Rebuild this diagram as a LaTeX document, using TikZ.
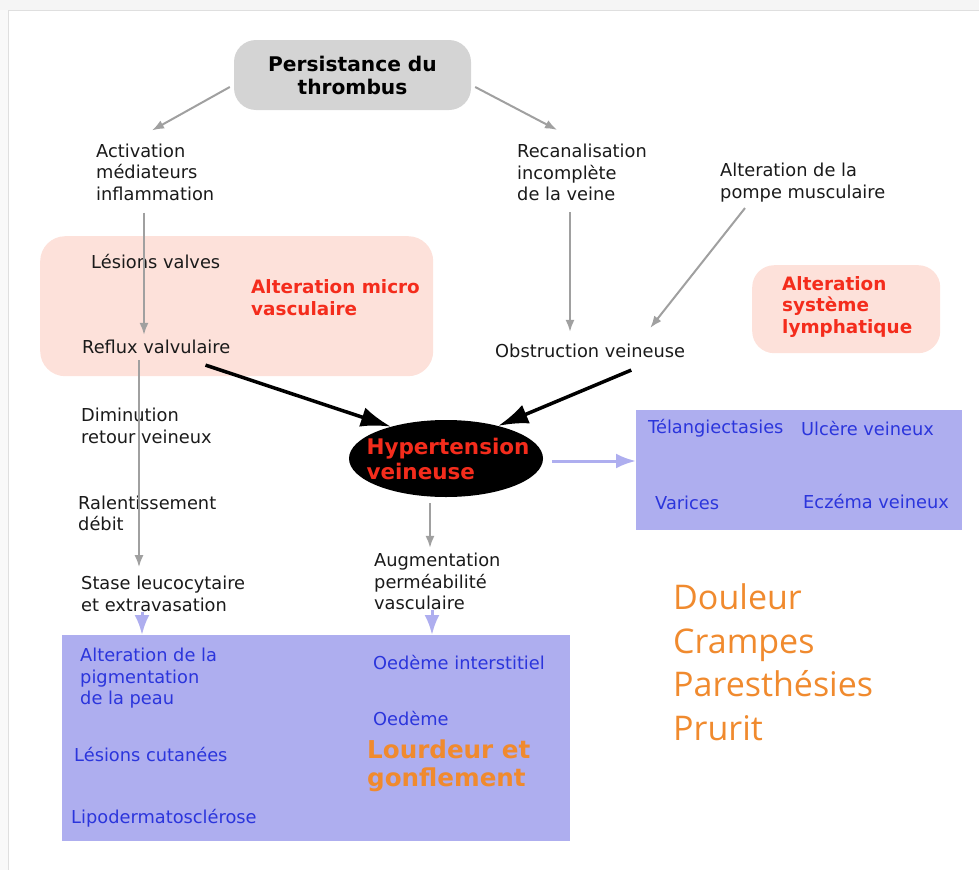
\documentclass[tikz,border=0pt]{standalone}
\usepackage{fontspec}
\setmainfont{DejaVu Sans}
\newfontfamily\listfont{Open Sans}
\usetikzlibrary{shapes.geometric,arrows.meta}
\definecolor{boxgray}{HTML}{D4D4D4}
\definecolor{pinkfill}{HTML}{FDE1DA}
\definecolor{lavender}{HTML}{AEAEEF}
\definecolor{redtext}{HTML}{F42C1C}
\definecolor{bluetext}{HTML}{2B35DC}
\definecolor{orangetext}{HTML}{F08A2E}
\definecolor{arrowgray}{HTML}{A0A0A0}
\definecolor{inktext}{HTML}{1A1A1A}

\begin{document}
\begin{tikzpicture}[x=1pt, y=-1pt,
    txt/.style ={anchor=west, align=left, inner sep=0pt, text=inktext,
      font=\fontsize{17.8}{21.5}\selectfont},
    redtxt/.style ={txt, text=redtext, font=\bfseries\fontsize{18.4}{21.5}\selectfont},
    bluetxt/.style ={txt, text=bluetext},
    panel/.style ={rectangle, inner sep=0pt, anchor=north west},
    grayarrow/.style ={draw=arrowgray, line width=2pt, -{Latex[length=12pt,width=9pt]}},
    blackarrow/.style ={draw=black, line width=3.5pt, -{Latex[length=30pt,width=20pt]}},
    bluearrow/.style ={draw=lavender, line width=3pt, -{Latex[length=20pt,width=15pt]}}]
   \useasboundingbox (0,0) rectangle (979,870);
   % screenshot frame
   \fill[gray!8] (0,0) rectangle (979,10);
   \fill[gray!5] (0,10) rectangle (8,870);
   \draw[gray!25, line width=0.8pt] (979,10) -- (8,10) -- (8,870);

   % panels
   \node[panel, fill=pinkfill, rounded corners=25pt, minimum width=393, minimum height=140] (micro) at (40,236) {};
   \node[panel, fill=pinkfill, rounded corners=22pt, minimum width=188, minimum height=88] (lymphbox) at (752,265) {};
   \node[panel, fill=lavender, minimum width=326, minimum height=120] (rightbox) at (636,410) {};
   \node[panel, fill=lavender, minimum width=508, minimum height=206] (botbox) at (62,635) {};

   \node[fill=boxgray, rounded corners=22pt, minimum width=237, minimum height=70, align=center,
     text=black, font=\bfseries\fontsize{20.2}{23}\selectfont] (persist) at (352.5,75) {Persistance du\\thrombus};

   \node[txt] (activ)  at (96,172)  {Activation\\médiateurs\\inflammation};
   \node[txt] (recan)  at (517,172.5) {Recanalisation\\incomplète\\de la veine};
   \node[txt] (pompe)  at (720,182.5) {Alteration de la\\pompe musculaire};
   \node[txt] (valves) at (91,262)  {Lésions valves};
   \node[redtxt] (altmicro) at (251,297.5) {Alteration micro\\vasculaire};
   \node[redtxt] (lymph) at (782,306.5) {Alteration\\système\\lymphatique};
   \node[txt] (reflux) at (82,347)  {Reflux valvulaire};
   \node[txt] (obstr)  at (495,351) {Obstruction veineuse};
   \node[txt] (dimin)  at (81,426)  {Diminution\\retour veineux};
   \node[txt] (ralent) at (78,513.5) {Ralentissement\\débit};
   \node[txt] (stase)  at (81,594)  {Stase leucocytaire\\et extravasation};
   \node[txt] (augm)   at (374,581.5) {Augmentation\\perméabilité\\vasculaire};

   \node[ellipse, fill=black, minimum width=194, minimum height=77, inner sep=0pt] (hyper) at (446,458.5) {};
   \node[align=left, inner sep=0pt, text=redtext, font=\bfseries\fontsize{21.5}{25}\selectfont]
     (hypertxt) at (448,458.5) {Hypertension\\veineuse};

   \node[bluetxt] (telang)  at (648,428) {Télangiectasies};
   \node[bluetxt] (ulcere)  at (801,429) {Ulcère veineux};
   \node[bluetxt] (varices) at (655,503) {Varices};
   \node[bluetxt] (eczema)  at (803,501) {Eczéma veineux};

   \node[bluetxt] (pigment) at (80,678.5) {Alteration de la\\pigmentation\\de la peau};
   \node[bluetxt] (lescut)  at (74,754) {Lésions cutanées};
   \node[bluetxt] (lipo)    at (71,818) {Lipodermatosclérose};
   \node[bluetxt] (oedint)  at (373,662) {Oedème interstitiel};
   \node[bluetxt] (oedeme)  at (373,718) {Oedème};
   \node[txt, text=orangetext, font=\bfseries\fontsize{24.6}{28}\selectfont] (lourdeur) at (367,766) {Lourdeur et\\gonflement};

   \node[txt, text=orangetext, font=\listfont\fontsize{34}{43.5}\selectfont] (signes) at (673,662)
     {Douleur\\Crampes\\Paresthésies\\Prurit};

   % connectors
   \draw[grayarrow] ([xshift=-4pt,yshift=-12pt]persist.west) -- ([xshift=56pt,yshift=13pt]activ.north west);
   \draw[grayarrow] ([xshift=4pt,yshift=-12pt]persist.east) -- ([xshift=40pt,yshift=14pt]recan.north west);
   \draw[grayarrow, shorten >=5pt] ([xshift=48pt,yshift=-12pt]activ.south west) coordinate (s1) -- (s1 |- reflux.north);
   \draw[grayarrow, shorten >=9pt] ([xshift=57pt,yshift=-6pt]reflux.south west) coordinate (s2) -- (s2 |- stase.north);
   \draw[bluearrow] ([xshift=61pt]stase.south west) coordinate (s3) -- (s3 |- botbox.north);
   \draw[grayarrow, shorten >=12pt] ([xshift=53pt,yshift=-11pt]recan.south west) coordinate (s4) -- (s4 |- obstr.north);
   \draw[grayarrow] ([xshift=25pt,yshift=-6pt]pompe.south west) -- ([xshift=-35pt,yshift=16pt]obstr.north east);
   \draw[blackarrow] ([xshift=-25pt,yshift=-11pt]reflux.south east) -- (hyper.150);
   \draw[blackarrow] ([xshift=-54pt,yshift=-12pt]obstr.south east) -- (hyper.32);
   \draw[bluearrow] ([xshift=9pt,yshift=-2.5pt]hyper.east) coordinate (s5) -- (s5 -| rightbox.west);
   \draw[grayarrow, shorten >=5pt] ([xshift=-16pt,yshift=-6pt]hyper.south) coordinate (s6) -- (s6 |- augm.north);
   \draw[bluearrow] ([xshift=58pt]augm.south west) coordinate (s7) -- (s7 |- botbox.north);
 \end{tikzpicture}
\end{document}
